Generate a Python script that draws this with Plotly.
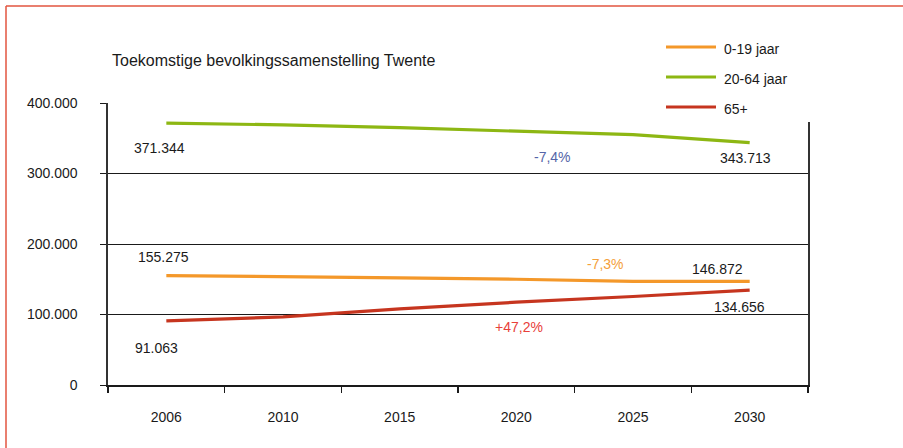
import plotly.graph_objects as go

# ---- data ----
years = ["2006", "2010", "2015", "2020", "2025", "2030"]
age_0_19 = [155275, 154000, 152000, 150000, 147000, 146872]
age_20_64 = [371344, 369000, 365000, 360500, 355000, 343713]
age_65_plus = [91063, 96500, 108000, 117500, 125500, 134656]
series_names = ["0-19 jaar", "20-64 jaar", "65+"]
series_colors = ["#F4982A", "#8DB713", "#C6351F"]
y_tickvals = [0, 100000, 200000, 300000, 400000]
y_ticktext = ["0", "100.000", "200.000", "300.000", "400.000"]
title_text = "Toekomstige bevolkingssamenstelling Twente"

# text labels: (text, pixel x, pixel y, colour)
value_labels = [
    ("371.344", 159, 148, "#1a1a1a"),
    ("155.275", 163, 257, "#1a1a1a"),
    ("91.063", 156, 348, "#1a1a1a"),
    ("-7,4%", 552, 157, "#5565A8"),
    ("343.713", 745, 158, "#1a1a1a"),
    ("-7,3%", 605, 264, "#F4A03A"),
    ("146.872", 717, 269, "#1a1a1a"),
    ("134.656", 739, 307, "#1a1a1a"),
    ("+47,2%", 519, 327, "#E8403A"),
]

W, H = 903, 448
L, R, T, B = 108, 808, 103, 385


def px(x):
    return (x - L) / (R - L)


def py(y):
    return (B - y) / (B - T)


FONT = "Liberation Sans, Arial, sans-serif"

fig = go.Figure()
for name, vals, col in zip(series_names, [age_0_19, age_20_64, age_65_plus], series_colors):
    fig.add_trace(go.Scatter(x=years, y=vals, mode="lines", name=name,
                             line=dict(color=col, width=3.2), showlegend=False,
                             hoverinfo="skip"))

annotations = [dict(text=title_text, xref="paper", yref="paper", x=px(110), y=py(61),
                    xanchor="left", yanchor="middle", showarrow=False,
                    font=dict(size=16, color="#1a1a1a", family=FONT))]
for t, x, y, c in value_labels:
    annotations.append(dict(text=t, xref="paper", yref="paper", x=px(x), y=py(y),
                            xanchor="center", yanchor="middle", showarrow=False,
                            font=dict(size=14, color=c, family=FONT)))

shapes = [
    # white box behind legend, hiding part of top gridline / right line
    dict(type="rect", xref="paper", yref="paper", x0=px(659), x1=px(815), y0=py(122), y1=py(30),
         fillcolor="white", line=dict(width=0), layer="above"),
    # red frame
    dict(type="line", xref="paper", yref="paper", x0=px(6), x1=px(910), y0=py(6), y1=py(6),
         line=dict(color="#E2553F", width=1.5), layer="above"),
    dict(type="line", xref="paper", yref="paper", x0=px(6), x1=px(6), y0=py(6), y1=py(460),
         line=dict(color="#E2553F", width=1.5), layer="above"),
]

# custom legend
legend_rows = [47, 77, 107]
for name, col, ry in zip(series_names, series_colors, legend_rows):
    shapes.append(dict(type="line", xref="paper", yref="paper", x0=px(666), x1=px(716),
                       y0=py(ry), y1=py(ry), line=dict(color=col, width=3.2), layer="above"))
    annotations.append(dict(text=name, xref="paper", yref="paper", x=px(722), y=py(ry + 2),
                            xanchor="left", yanchor="middle", showarrow=False,
                            font=dict(size=14, color="#1a1a1a", family=FONT)))

fig.update_layout(
    width=W, height=H,
    margin=dict(l=L, r=W - R, t=T, b=H - B, pad=0),
    paper_bgcolor="white", plot_bgcolor="white",
    font=dict(family=FONT, size=14, color="#1a1a1a"),
    showlegend=False,
    hovermode=False,
    annotations=annotations,
    shapes=shapes,
    xaxis=dict(type="category", categoryorder="array", categoryarray=years,
               range=[-0.5, len(years) - 0.5],
               showgrid=False, showline=True, linecolor="#1a1a1a", linewidth=2,
               ticks="outside", tickson="boundaries", ticklen=6, tickcolor="#1a1a1a", tickwidth=1.5,
               ticklabelstandoff=18, tickfont=dict(size=14, color="#1a1a1a")),
    yaxis=dict(range=[0, 400000], tickvals=y_tickvals, ticktext=y_ticktext,
               showgrid=True, gridcolor="#1a1a1a", gridwidth=1,
               showline=True, linecolor="#333", linewidth=1.6, mirror=True,
               zeroline=False, ticks="outside", ticklen=6, tickcolor="#1a1a1a", tickwidth=1,
               ticklabelstandoff=20, tickfont=dict(size=14, color="#1a1a1a")),
)

fig.write_html("out.html", config={"displayModeBar": False, "staticPlot": True})

# remove the default page margin so the figure sits at the window's top-left
with open("out.html", "r", encoding="utf-8") as f:
    html = f.read()
html = html.replace("<body>", '<body style="margin:0;padding:0;overflow:hidden">', 1)
with open("out.html", "w", encoding="utf-8") as f:
    f.write(html)
